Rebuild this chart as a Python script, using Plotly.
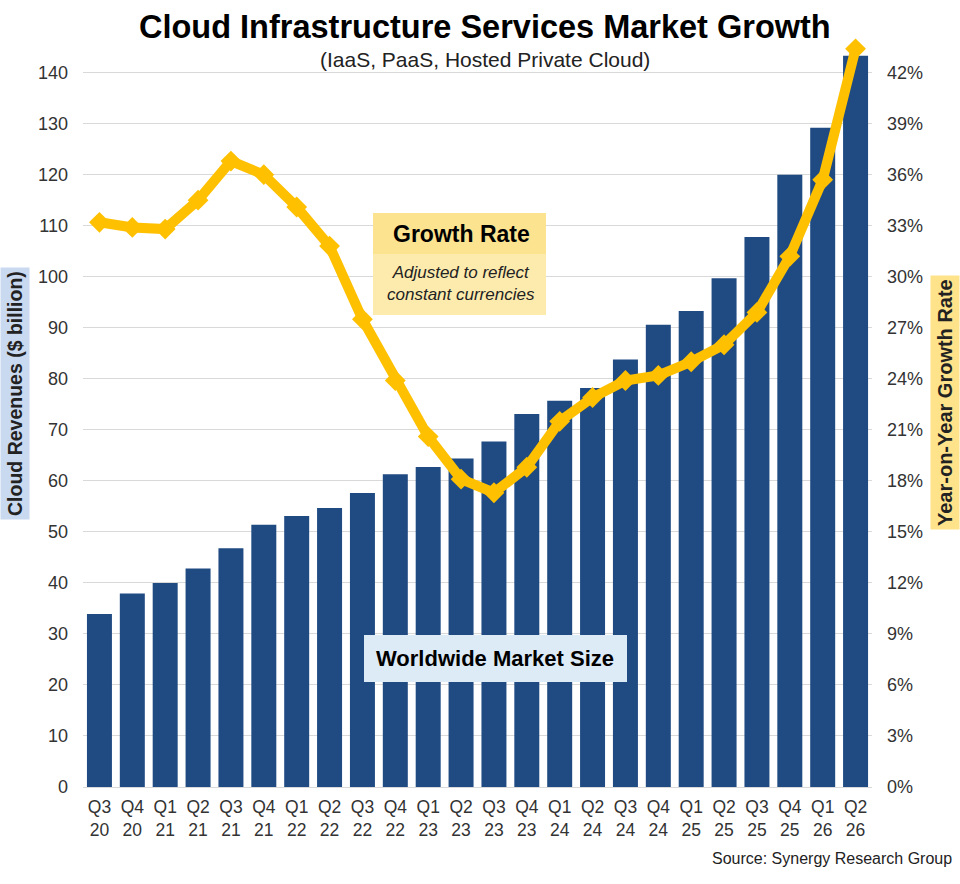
import plotly.graph_objects as go

quarters = ["Q3<br>20", "Q4<br>20", "Q1<br>21", "Q2<br>21", "Q3<br>21", "Q4<br>21",
            "Q1<br>22", "Q2<br>22", "Q3<br>22", "Q4<br>22", "Q1<br>23", "Q2<br>23",
            "Q3<br>23", "Q4<br>23", "Q1<br>24", "Q2<br>24", "Q3<br>24", "Q4<br>24",
            "Q1<br>25", "Q2<br>25", "Q3<br>25", "Q4<br>25", "Q1<br>26", "Q2<br>26"]
revenues = [33.9, 37.9, 40.0, 42.8, 46.8, 51.4, 53.1, 54.7, 57.6, 61.3, 62.7, 64.4,
            67.7, 73.1, 75.7, 78.2, 83.8, 90.6, 93.3, 99.7, 107.8, 120.0, 129.2, 143.3]
growth = [33.2, 32.9, 32.8, 34.5, 36.8, 36.0, 34.1, 31.8, 27.5, 23.9, 20.6, 18.1,
          17.3, 18.8, 21.5, 22.9, 23.9, 24.2, 25.0, 26.0, 27.9, 31.2, 35.7, 43.4]
left_ticks = [0, 10, 20, 30, 40, 50, 60, 70, 80, 90, 100, 110, 120, 130, 140]
right_ticks = [0, 3, 6, 9, 12, 15, 18, 21, 24, 27, 30, 33, 36, 39, 42]
right_labels = [f"{v}%" for v in right_ticks]

FONT = "Liberation Sans, Arial, sans-serif"
BAR = "#1f4a82"
GOLD = "#FFC000"

fig = go.Figure()
fig.add_trace(go.Bar(x=quarters, y=revenues, marker=dict(color=BAR, line=dict(width=0)),
                     width=0.76, yaxis="y", showlegend=False))
fig.add_trace(go.Scatter(x=quarters, y=growth, yaxis="y2", mode="lines+markers",
                         line=dict(color=GOLD, width=10),
                         marker=dict(symbol="diamond", size=16, color=GOLD),
                         cliponaxis=False, showlegend=False))

ymax = 146
pl, pr, pt, pb = 83, 872, 42, 787
fig.update_layout(
    width=960, height=884,
    margin=dict(l=pl, r=960 - pr, t=pt, b=884 - pb, autoexpand=False),
    paper_bgcolor="white", plot_bgcolor="white",
    font=dict(family=FONT, color="#333333", size=18),
    xaxis=dict(type="category", range=[-0.5, 23.5], showgrid=False,
               showline=True, linecolor="#d9d9d9", linewidth=1,
               tickfont=dict(size=17.5, color="#333333"), ticks="", ticklabelstandoff=4),
    yaxis=dict(range=[0, ymax], tickvals=left_ticks, showgrid=True, gridcolor="#d9d9d9",
               gridwidth=1, zeroline=False, showline=False, ticks="",
               tickfont=dict(size=18, color="#333333"), ticklabelstandoff=14),
    yaxis2=dict(range=[0, ymax * 0.3], tickvals=right_ticks, ticktext=right_labels,
                overlaying="y", side="right", showgrid=False, zeroline=False,
                showline=False, ticks="", tickfont=dict(size=18, color="#333333"),
                ticklabelstandoff=14),
)

# white mask covering part of the top gridline behind the title
fig.add_shape(type="rect", xref="paper", yref="y", layer="between",
              x0=(143 - pl) / (pr - pl), x1=(828 - pl) / (pr - pl), y0=136, y1=ymax,
              fillcolor="white", line=dict(width=0))


def rect(x0, x1, y0, y1, color):
    fig.add_shape(type="rect", xref="paper", yref="paper", layer="above",
                  x0=(x0 - pl) / (pr - pl), x1=(x1 - pl) / (pr - pl),
                  y0=(pb - y1) / (pb - pt), y1=(pb - y0) / (pb - pt),
                  fillcolor=color, line=dict(width=0))


rect(373, 546, 213, 254, "#FCE38F")
rect(373, 546, 254, 315, "#FDEBAE")
rect(364, 627, 635, 682, "#DDEBF7")


def ann(text, x, y, size, color="#000000", bold=False, italic=False, angle=0, bg=None,
        xanchor="center", pad=0):
    t = text
    if bold:
        t = "<b>" + t + "</b>"
    if italic:
        t = "<i>" + t + "</i>"
    fig.add_annotation(text=t, x=(x - pl) / (pr - pl), y=(pb - y) / (pb - pt),
                       xref="paper", yref="paper", showarrow=False,
                       xanchor=xanchor, yanchor="middle", textangle=angle,
                       font=dict(family=FONT, size=size, color=color),
                       bgcolor=bg, borderpad=pad)


ann("Cloud Infrastructure Services Market Growth", 485, 27, 32.5, bold=True)
ann("(IaaS, PaaS, Hosted Private Cloud)", 485, 59, 21, color="#222222")
ann("Growth Rate", 461, 234, 23, bold=True)
ann("Adjusted to reflect<br>constant currencies", 461, 283, 17, color="#222222", italic=True)
ann("Worldwide Market Size", 495, 658, 22, bold=True)
ann("Cloud Revenues ($ billion)", 15, 394, 19.5, color="#222222", bold=True, angle=-90,
    bg="#C9DAF0", pad=3)
ann("Year-on-Year Growth Rate", 945, 403, 20, color="#222222", bold=True, angle=-90,
    bg="#FFE38A", pad=3)
ann("Source: Synergy Research Group", 953, 858, 16, color="#222222", xanchor="right")

fig.write_html("out.html", config={"displayModeBar": False},
               post_script="document.body.style.margin='0px';")
